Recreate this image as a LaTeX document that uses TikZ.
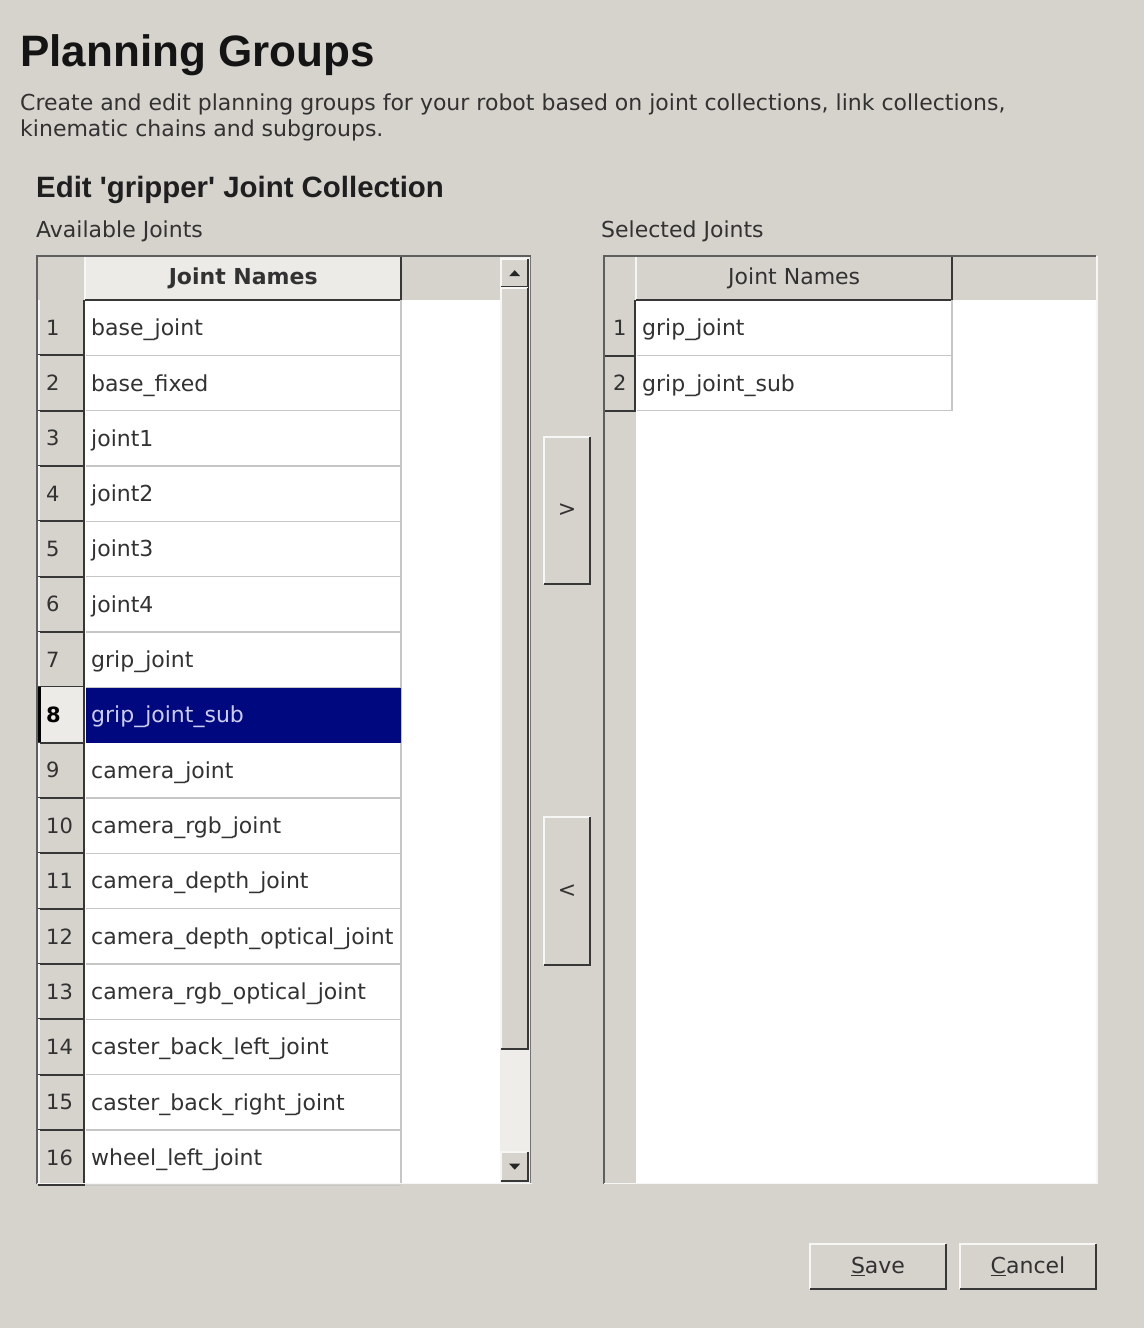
\documentclass[tikz,border=0pt]{standalone}
\usepackage{fontspec}
\setmainfont{DejaVu Sans}
\newfontfamily\headfont{Liberation Sans}
\definecolor{guibg}{RGB}{214,210,204}
\definecolor{hdrlight}{RGB}{236,235,232}
\definecolor{darkedge}{RGB}{55,55,55}
\definecolor{lightedge}{RGB}{246,246,244}
\definecolor{gridc}{RGB}{198,198,198}
\definecolor{selblue}{RGB}{0,8,128}
\definecolor{seltext}{RGB}{205,205,238}
\definecolor{txt}{RGB}{50,50,50}
\definecolor{trackc}{RGB}{238,237,234}
\begin{document}
\begin{tikzpicture}[x=1pt,y=-1pt,
  lbl/.style={anchor=base west,inner sep=0pt,text=txt,font=\fontsize{22}{26}\selectfont},
  celltxt/.style={anchor=base west,inner sep=0pt,font=\fontsize{22}{26}\selectfont},
  numtxt/.style={inner sep=0pt,text=txt,font=\fontsize{21}{26}\selectfont},
  hdrtxt/.style={anchor=center,inner sep=0pt,text=txt,font=\fontsize{22}{26}\selectfont},
  btn/.style={fill=guibg,inner sep=0pt,text=txt,font=\fontsize{22}{26}\selectfont},
  hi/.style={lightedge,line width=2pt},
  lo/.style={darkedge,line width=2pt},
  grid/.style={gridc,line width=1.2pt}
]
\useasboundingbox (0,0) rectangle (1144,1328);
\fill[guibg] (0,0) rectangle (1144,1328);

% ---------- headings ----------
\node[anchor=base west,inner sep=0pt,text=black!92,font=\headfont\bfseries\fontsize{44}{50}\selectfont] (title) at (20,66) {Planning Groups};
\node[lbl] (desc1) at (20,110) {Create and edit planning groups for your robot based on joint collections, link collections,};
\node[lbl] (desc2) at (20,136) {kinematic chains and subgroups.};
\node[anchor=base west,inner sep=0pt,text=black!88,font=\headfont\bfseries\fontsize{29.4}{34}\selectfont] (edit) at (36,197) {Edit 'gripper' Joint Collection};
\node[lbl] (avail) at (36,237) {Available Joints};
\node[lbl] (selj) at (601,237) {Selected Joints};

% ---------- left table ----------
\fill[white] (85,300) rectangle (500,1184);
\fill[guibg] (37,256) rectangle (500,300);
\fill[guibg] (37,300) rectangle (85,1184);
\node[hdrtxt,fill=hdrlight,minimum width=316pt,minimum height=44pt,anchor=north west,font=\bfseries\fontsize{22}{26}\selectfont] (lhead) at (85,256) {Joint Names};
\draw[hi] (lhead.south west) -- (lhead.north west);
\draw[lo] (lhead.north east) -- (lhead.south east) -- (lhead.south west);
\draw[grid] (401,300) -- (401,1184);
% selection
\fill[selblue] (86,300+7*55.33+1) rectangle (401,300+8*55.33);
\foreach \n [count=\i] in {base\_joint,base\_fixed,joint1,joint2,joint3,joint4,grip\_joint,grip\_joint\_sub,camera\_joint,camera\_rgb\_joint,camera\_depth\_joint,camera\_depth\_optical\_joint,camera\_rgb\_optical\_joint,caster\_back\_left\_joint,caster\_back\_right\_joint,wheel\_left\_joint}{
  \pgfmathsetmacro\rt{300+(\i-1)*55.33}
  \pgfmathsetmacro\rc{\rt+27.67}
  \pgfmathsetmacro\rb{\rt+55.33}
  \ifnum\i=8
    \fill[hdrlight] (38,\rt) rectangle (84,\rb);
    \draw[black,line width=3pt] (39.5,\rt) -- (39.5,\rb);
    \node[numtxt,anchor=west,font=\bfseries\fontsize{21}{26}\selectfont,text=black] (LH\i) at (46,\rc) {\i};
    \node[celltxt,text=seltext] (LC\i) at (91,\rc+8) {\n};
  \else
    \draw[hi] (39,\rb) -- (39,\rt);
    \node[numtxt,anchor=west] (LH\i) at (46,\rc) {\i};
    \draw[grid] (86,\rb) -- (401,\rb);
    \node[celltxt,text=txt] (LC\i) at (91,\rc+8) {\n};
  \fi
  \draw[lo] (84,\rt) -- (84,\rb) -- (38,\rb);
}
% scrollbar
\fill[trackc] (500,256) rectangle (530,1184);
\node[fill=guibg,minimum width=27pt,minimum height=28pt,inner sep=0pt,anchor=north west] (upb) at (501,259) {};
\draw[hi] (upb.south west) -- (upb.north west) -- (upb.north east);
\draw[lo] (upb.north east) -- (upb.south east) -- (upb.south west);
\fill[black!85] ([xshift=-5.5pt,yshift=-3pt]upb.center) -- ([yshift=3pt]upb.center) -- ([xshift=5.5pt,yshift=-3pt]upb.center) -- cycle;
\node[fill=guibg,minimum width=27pt,minimum height=761pt,inner sep=0pt,anchor=north west] (thumb) at (501,288) {};
\draw[hi] (thumb.south west) -- (thumb.north west) -- (thumb.north east);
\draw[lo] (thumb.north east) -- (thumb.south east) -- (thumb.south west);
\node[fill=guibg,minimum width=27pt,minimum height=29pt,inner sep=0pt,anchor=north west] (dnb) at (501,1152) {};
\draw[hi] (dnb.south west) -- (dnb.north west) -- (dnb.north east);
\draw[lo] (dnb.north east) -- (dnb.south east) -- (dnb.south west);
\fill[black!85] ([xshift=-5.5pt,yshift=3pt]dnb.center) -- ([yshift=-3pt]dnb.center) -- ([xshift=5.5pt,yshift=3pt]dnb.center) -- cycle;
% frame
\draw[darkedge!80,line width=2pt] (37,1184) -- (37,256) -- (531,256);
\draw[darkedge!70,line width=1.5pt] (530.5,257) -- (530.5,1183);
\draw[lightedge,line width=1.5pt] (37,1183.5) -- (532,1183.5);

% ---------- middle buttons ----------
\node[btn,minimum width=46pt,minimum height=147pt] (addbtn) at (567,510.5) {>};
\draw[hi] (addbtn.south west) -- (addbtn.north west) -- (addbtn.north east);
\draw[lo] (addbtn.north east) -- (addbtn.south east) -- (addbtn.south west);
\node[btn,minimum width=46pt,minimum height=148pt] (rembtn) at (567,891) {<};
\draw[hi] (rembtn.south west) -- (rembtn.north west) -- (rembtn.north east);
\draw[lo] (rembtn.north east) -- (rembtn.south east) -- (rembtn.south west);

% ---------- right table ----------
\fill[white] (636,300) rectangle (1096,1184);
\fill[guibg] (603,256) rectangle (1096,300);
\fill[guibg] (603,300) rectangle (636,1184);
\node[hdrtxt,minimum width=316pt,minimum height=44pt,anchor=north west] (rhead) at (636,256) {Joint Names};
\draw[hi] (rhead.south west) -- (rhead.north west);
\draw[lo] (rhead.north east) -- (rhead.south east) -- (rhead.south west);
\draw[grid] (952,300) -- (952,410.7);
\foreach \n [count=\i] in {grip\_joint,grip\_joint\_sub}{
  \pgfmathsetmacro\rt{300+(\i-1)*55.33}
  \pgfmathsetmacro\rc{\rt+27.67}
  \pgfmathsetmacro\rb{\rt+55.33}
  \node[numtxt,minimum width=31pt,minimum height=55.33pt,anchor=north west] (RH\i) at (604,\rt) {\i};
  \draw[hi] (RH\i.south west) -- (RH\i.north west);
  \draw[lo] (RH\i.north east) -- (RH\i.south east) -- (RH\i.south west);
  \draw[grid] (637,\rb) -- (952,\rb);
  \node[celltxt,text=txt] (RC\i) at (642,\rc+8) {\n};
}
\draw[darkedge!80,line width=2pt] (604,1184) -- (604,256) -- (1096,256);
\draw[lightedge,line width=1.5pt] (604,1183.5) -- (1097,1183.5) -- (1097,256);

% ---------- bottom buttons ----------
\node[btn,minimum width=136pt,minimum height=45pt] (save) at (878,1266.5) {\underline{S}ave};
\draw[hi] (save.south west) -- (save.north west) -- (save.north east);
\draw[lo] (save.north east) -- (save.south east) -- (save.south west);
\node[btn,minimum width=136pt,minimum height=45pt] (cancel) at (1028,1266.5) {\underline{C}ancel};
\draw[hi] (cancel.south west) -- (cancel.north west) -- (cancel.north east);
\draw[lo] (cancel.north east) -- (cancel.south east) -- (cancel.south west);
\end{tikzpicture}
\end{document}
